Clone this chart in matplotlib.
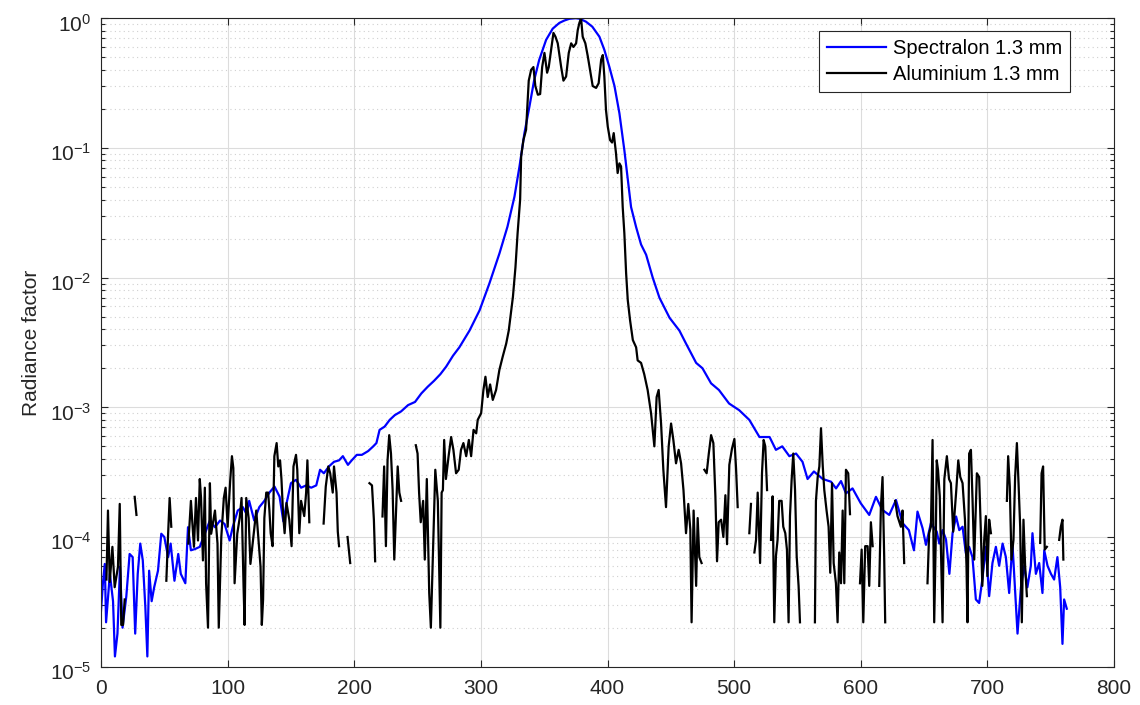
import numpy as np
import matplotlib
matplotlib.use("Agg")
import matplotlib.pyplot as plt
import matplotlib.transforms as mtransforms
from matplotlib.ticker import LogLocator, NullLocator, MultipleLocator

plt.rcParams['font.family'] = ['Liberation Sans', 'DejaVu Sans']
plt.rcParams['mathtext.default'] = 'regular'

nan = np.nan

# Spectralon 1.3 mm
spec_x = [0, 1.5, 3, 4, 7, 9.5, 11, 13, 15, 17,
          20, 22.6, 25, 27, 29, 31, 33, 35, 36.6, 38,
          40, 42, 45, 47.6, 50, 53, 55, 58, 61, 63,
          66.6, 68.7, 71, 74.5, 78, 82, 86, 90, 94, 97.6,
          101.6, 104, 108, 112, 115, 117, 121, 125, 129, 133,
          137, 141, 144, 146.6, 150, 154, 158, 162, 166, 170,
          173, 176, 180, 184, 188, 191, 195, 198, 202, 206,
          211, 215, 217.5, 220, 224, 228, 232, 237, 242.5, 248,
          253, 258, 263, 268, 272.6, 278, 283, 291, 299, 306.7,
          314.7, 321, 326.5, 330.5, 334.4, 338.4, 342, 346, 351.5, 356.7,
          362, 366, 370, 375, 378, 383, 388, 393.6, 397.5, 401.5,
          405.5, 409.4, 413.3, 416, 418.6, 422.6, 426.5, 430.5, 435.7, 441,
          449, 456.8, 462, 470, 475, 481.8, 488, 496, 504, 512,
          520, 528, 533, 538, 543.6, 548.9, 554, 558, 563, 570,
          576.5, 580.5, 584.4, 588.3, 593.5, 600, 606.7, 612, 617, 622.5,
          627.8, 633, 638, 642, 644.8, 648.8, 651.5, 655.4, 660, 662,
          664.6, 667.3, 670, 672.5, 675.3, 677.8, 680.4, 683, 685.6, 688.2,
          690.9, 693.5, 696, 698.8, 701.4, 704, 706.7, 709.3, 712, 714.6,
          717.2, 719.8, 721.7, 723.8, 726.5, 729.1, 731.6, 734.3, 735.6, 738.3,
          740.9, 743.5, 744.9, 747.5, 750.2, 752.7, 755.3, 757.5, 759.3, 760.6,
          762.7]
spec_y = [2.7e-5, 4.4e-5, 6.2e-5, 2.2e-5, 5.2e-5, 3.2e-5, 1.2e-5, 1.8e-5, 5.9e-5, 2.0e-5,
          3.5e-5, 7.4e-5, 7.0e-5, 1.8e-5, 5.2e-5, 8.9e-5, 6.6e-5, 2.9e-5, 1.2e-5, 5.5e-5,
          3.2e-5, 4.1e-5, 5.5e-5, 1.06e-4, 1.0e-4, 7.0e-5, 8.9e-5, 4.6e-5, 7.4e-5, 5.2e-5,
          4.4e-5, 1.19e-4, 7.9e-5, 8.1e-5, 8.4e-5, 1.06e-4, 1.34e-4, 1.19e-4, 1.34e-4, 1.26e-4,
          9.4e-5, 1.19e-4, 1.6e-4, 1.7e-4, 1.5e-4, 1.9e-4, 1.34e-4, 1.7e-4, 1.9e-4, 2.2e-4,
          2.45e-4, 2.05e-4, 1.32e-4, 1.83e-4, 2.6e-4, 2.76e-4, 2.4e-4, 2.5e-4, 2.4e-4, 2.5e-4,
          3.3e-4, 3.1e-4, 3.5e-4, 3.8e-4, 3.9e-4, 4.2e-4, 3.6e-4, 3.9e-4, 4.3e-4, 4.3e-4,
          4.6e-4, 5.0e-4, 5.3e-4, 6.7e-4, 7.1e-4, 8.0e-4, 8.7e-4, 9.3e-4, 1.04e-3, 1.1e-3,
          1.28e-3, 1.44e-3, 1.6e-3, 1.8e-3, 2.06e-3, 2.5e-3, 2.9e-3, 3.9e-3, 5.6e-3, 9.0e-3,
          1.54e-2, 2.47e-2, 4.2e-2, 7.2e-2, 0.13, 0.21, 0.33, 0.475, 0.68, 0.83,
          0.92, 0.96, 0.99, 1.0, 0.99, 0.94, 0.86, 0.72, 0.57, 0.42,
          0.30, 0.185, 0.096, 0.057, 0.035, 0.0245, 0.018, 0.015, 0.010, 7.0e-3,
          4.9e-3, 3.9e-3, 3.1e-3, 2.2e-3, 2.0e-3, 1.53e-3, 1.36e-3, 1.07e-3, 9.5e-4, 8.0e-4,
          5.9e-4, 5.9e-4, 4.7e-4, 5.0e-4, 4.2e-4, 4.4e-4, 3.8e-4, 2.8e-4, 3.2e-4, 2.8e-4,
          2.67e-4, 2.37e-4, 2.7e-4, 2.17e-4, 2.37e-4, 1.82e-4, 1.48e-4, 2.04e-4, 1.62e-4, 1.48e-4,
          1.93e-4, 1.28e-4, 1.13e-4, 7.9e-5, 1.57e-4, 1.17e-4, 8.7e-5, 1.28e-4, 1.1e-4, 8.9e-5,
          1.13e-4, 9.6e-5, 5.2e-5, 1.07e-4, 1.44e-4, 1.13e-4, 1.2e-4, 7.5e-5, 8.4e-5, 7.0e-5,
          3.3e-5, 3.1e-5, 4.7e-5, 8.4e-5, 3.5e-5, 6.3e-5, 8.4e-5, 6.0e-5, 8.9e-5, 7.0e-5,
          3.7e-5, 8.9e-5, 4.1e-5, 1.8e-5, 4.1e-5, 6.0e-5, 4.1e-5, 6.0e-5, 1.07e-4, 5.2e-5,
          6.3e-5, 3.7e-5, 7.9e-5, 6.0e-5, 5.2e-5, 4.7e-5, 7.0e-5, 4.1e-5, 1.5e-5, 3.3e-5,
          2.8e-5]

# Aluminium 1.3 mm, nan where the curve is broken
alu_x = [4.3, 5.5, 6.9, 9, 10.8, 13.4, 14.8, 16, 17.4, 18.7,
         22, 26.6, 28, 40, 51.6, 52.9, 54.2, 55.5, 62, 69,
         71, 73.4, 75, 76.6, 78, 79, 80.5, 82, 83, 84.5,
         86, 87, 90, 92, 93, 95, 97, 98.4, 100, 102,
         103.4, 104.5, 105.5, 107.6, 109.5, 111, 112.6, 113.4, 114.7, 116.6,
         118, 120, 122.6, 126, 127, 128, 129, 130.5, 132, 133,
         134, 135.5, 136.9, 138.7, 140, 141.4, 142.5, 143.8, 145, 146.5,
         148.7, 150.5, 152, 154, 155, 156.6, 158, 159, 160.5, 162,
         163, 164.5, 169, 175.8, 177.5, 179.5, 181, 183, 184, 186,
         187, 188, 191, 194.7, 196.8, 204, 212, 214, 215.5, 216.5,
         219, 222.3, 223.6, 225, 226.3, 227.6, 229, 230.3, 231.6, 233,
         234.3, 235.6, 237, 243, 248.6, 250, 251.2, 252.5, 254.4, 255.7,
         257.3, 259.2, 260.5, 262.3, 264, 266, 268, 269, 270, 271,
         272.4, 274.5, 276.5, 278.3, 280.4, 282.5, 284.3, 286.2, 288.4, 290.5,
         292.3, 294.2, 296.3, 297.5, 300.2, 302, 303.6, 305.4, 307.3, 309.4,
         312, 314.6, 317.2, 320, 322, 324, 325.3, 327.3, 329, 331,
         331.8, 333.6, 335.7, 337, 337.8, 339.7, 341.5, 343, 345, 346.8,
         348.4, 350.2, 352.3, 353.6, 355.5, 357.3, 358.9, 360.7, 363.4, 365.2,
         367.3, 369.4, 371.3, 373.1, 375.2, 376.5, 377.8, 379.1, 380.4, 382.5,
         384.4, 386.2, 388.3, 391, 393, 395, 396.3, 397.5, 398.8, 400.2,
         402, 403.6, 404.9, 406.7, 408, 409.4, 410.7, 412, 413.3, 414.7,
         416, 417.8, 420, 422.6, 423.8, 426.5, 429, 431.7, 434.4, 437,
         438.8, 440.4, 442.3, 444.1, 446.2, 448.3, 450.2, 452, 454.1, 456.2,
         458.1, 460, 462, 463.8, 465.4, 466.4, 468, 470, 471.2, 472.5,
         474.3, 475.5, 476.5, 478.3, 480, 481.8, 483.6, 485.2, 486.5, 487.8,
         489.7, 491.5, 493.1, 494.4, 496.2, 498.3, 500.2, 501.5, 502.8, 507,
         512, 513.3, 514.5, 516, 517.3, 518.6, 520.5, 522, 523.3, 524.6,
         526, 528, 529.1, 530.4, 531.7, 533, 534.3, 535.6, 537.5, 538.8,
         540.4, 541.7, 543, 544.1, 545.4, 546.7, 548.1, 549.4, 550.9, 552,
         558, 563.8, 564.6, 566, 567.3, 568.6, 570, 571.2, 573, 574.6,
         575.9, 577.3, 578.6, 580.4, 581.7, 583, 584.4, 585.7, 587, 588.3,
         590.1, 591.5, 595, 599.4, 600.7, 602, 603.5, 605.4, 606.7, 608,
         609.4, 612, 614.6, 615.9, 617.2, 618.5, 619.3, 623, 627.2, 629,
         631.7, 633, 634.3, 640, 652.7, 654, 655.4, 656.7, 658, 659.3,
         660, 661, 662.4, 664.6, 666, 668, 669.7, 671.2, 673, 675.3,
         677, 678.6, 680.4, 682.3, 683.5, 684.3, 685.6, 687, 688.3, 689.6,
         691.7, 693.5, 694.9, 696, 697.5, 698.8, 700, 701.4, 702.8, 708,
         715.4, 716.4, 717.7, 719, 720.6, 721.9, 723.3, 724.6, 725.9, 727.2,
         728.5, 729.8, 731.2, 736, 741.7, 742.8, 744, 745.3, 747, 752,
         756.7, 758, 759.3, 760]
alu_y = [4.7e-5, 1.6e-4, 4.5e-5, 8.4e-5, 4.1e-5, 5.9e-5, 1.8e-4, 2.1e-5, 2.1e-5, 3.3e-5,
         nan, 2.04e-4, 1.48e-4, nan, 4.6e-5, 1.0e-4, 2.0e-4, 1.2e-4, nan, 8.9e-5,
         1.9e-4, 8.4e-5, 2.0e-4, 9.4e-5, 2.8e-4, 2.0e-4, 6.6e-5, 2.4e-4, 4.4e-5, 2.0e-5,
         2.6e-4, 1.06e-4, 1.6e-4, 8.9e-5, 2.0e-5, 1.0e-4, 2.0e-4, 2.4e-4, 1.2e-4, 2.7e-4,
         4.2e-4, 3.4e-4, 4.4e-5, 1.06e-4, 1.4e-4, 2.0e-4, 4.1e-5, 2.1e-5, 2.0e-4, 1.4e-4,
         6.2e-5, 9.4e-5, 1.6e-4, 5.9e-5, 2.1e-5, 3.3e-5, 1.4e-4, 2.2e-4, 2.2e-4, 1.6e-4,
         1.07e-4, 8.5e-5, 4.2e-4, 5.3e-4, 3.5e-4, 3.9e-4, 2.8e-4, 1.5e-4, 1.07e-4, 1.83e-4,
         1.36e-4, 8.5e-5, 3.5e-4, 4.3e-4, 3.3e-4, 1.07e-4, 1.9e-4, 1.7e-4, 1.45e-4, 2.2e-4,
         3.9e-4, 1.3e-4, nan, 1.27e-4, 2.45e-4, 3.5e-4, 3.1e-4, 2.2e-4, 3.5e-4, 2.2e-4,
         1.1e-4, 8.5e-5, nan, 1.0e-4, 6.3e-5, nan, 2.6e-4, 2.5e-4, 1.36e-4, 6.5e-5,
         nan, 1.44e-4, 3.5e-4, 8.5e-5, 3.9e-4, 6.1e-4, 4.4e-4, 2.3e-4, 6.7e-5, 1.6e-4,
         3.5e-4, 2.2e-4, 1.9e-4, nan, 5.1e-4, 4.4e-4, 2.2e-4, 1.3e-4, 1.9e-4, 6.7e-5,
         2.8e-4, 3.7e-5, 2.0e-5, 8.5e-5, 3.3e-4, 1.9e-4, 2.0e-5, 2.2e-4, 2.3e-4, 5.6e-4,
         2.8e-4, 4.2e-4, 5.9e-4, 4.7e-4, 3.1e-4, 3.3e-4, 4.7e-4, 5.3e-4, 4.2e-4, 5.6e-4,
         4.2e-4, 6.7e-4, 6.3e-4, 8.0e-4, 9.0e-4, 1.36e-3, 1.72e-3, 1.2e-3, 1.5e-3, 1.14e-3,
         1.36e-3, 1.94e-3, 2.45e-3, 3.1e-3, 3.9e-3, 5.6e-3, 7.1e-3, 1.2e-2, 2.2e-2, 4.0e-2,
         8.6e-2, 0.115, 0.138, 0.235, 0.33, 0.40, 0.42, 0.30, 0.257, 0.26,
         0.42, 0.54, 0.38, 0.42, 0.57, 0.77, 0.72, 0.64, 0.42, 0.33,
         0.355, 0.54, 0.64, 0.60, 0.64, 0.81, 0.92, 1.0, 0.72, 0.64,
         0.51, 0.40, 0.30, 0.29, 0.315, 0.48, 0.52, 0.355, 0.196, 0.146,
         0.115, 0.11, 0.13, 0.091, 0.064, 0.076, 0.072, 0.035, 0.022, 0.0108,
         6.7e-3, 4.7e-3, 3.3e-3, 2.9e-3, 2.3e-3, 2.2e-3, 1.8e-3, 1.36e-3, 9.0e-4, 5.0e-4,
         1.2e-3, 1.36e-3, 7.5e-4, 3.3e-4, 1.7e-4, 5.0e-4, 7.5e-4, 5.6e-4, 3.7e-4, 4.7e-4,
         3.7e-4, 2.3e-4, 1.07e-4, 1.8e-4, 1.14e-4, 2.2e-5, 1.6e-4, 4.2e-5, 1.4e-4, 7.0e-5,
         6.3e-5, nan, 3.3e-4, 3.1e-4, 4.4e-4, 6.1e-4, 5.3e-4, 2.06e-4, 6.5e-5, 1.3e-4,
         1.36e-4, 1.0e-4, 2.1e-4, 8.8e-5, 3.6e-4, 4.8e-4, 5.7e-4, 3.4e-4, 1.7e-4, nan,
         1.07e-4, 1.8e-4, nan, 7.6e-5, 9.5e-5, 2.2e-4, 6.3e-5, 3.1e-4, 5.6e-4, 5.0e-4,
         2.3e-4, nan, 9.5e-5, 2.06e-4, 2.2e-5, 7.1e-5, 9.5e-5, 1.9e-4, 1.9e-4, 1.2e-4,
         1.07e-4, 8e-5, 2.2e-5, 1.45e-4, 2.75e-4, 4.4e-4, 2.3e-4, 7.1e-5, 4.2e-5, 2.2e-5,
         nan, 2.2e-5, 1.9e-4, 2.9e-4, 3.5e-4, 6.9e-4, 3.5e-4, 2.3e-4, 1.6e-4, 1.2e-4,
         5.3e-5, 2.6e-4, 6.3e-5, 4.4e-5, 2.2e-5, 7.6e-5, 4.4e-5, 1.6e-4, 4.4e-5, 3.3e-4,
         3.1e-4, 1.5e-4, nan, 4.4e-5, 8e-5, 2.2e-5, 8.5e-5, 8.5e-5, 4.2e-5, 1.3e-4,
         8.5e-5, nan, 4.2e-5, 1.7e-4, 2.9e-4, 7.1e-5, 2.2e-5, nan, 1.9e-4, 1.45e-4,
         1.2e-4, 1.6e-4, 6.3e-5, nan, 4.4e-5, 1.07e-4, 1.2e-4, 5.6e-4, 2.2e-5, 1.07e-4,
         3.9e-4, 3.3e-4, 2.06e-4, 2.2e-5, 2.8e-4, 4.2e-4, 2.8e-4, 2.6e-4, 1.1e-4, 2.2e-4,
         3.9e-4, 2.9e-4, 2.6e-4, 1.36e-4, 6.0e-5, 2.2e-5, 4.4e-4, 4.7e-4, 1.9e-4, 6.7e-5,
         3.1e-4, 2.9e-4, 1.07e-4, 4.2e-5, 9.5e-5, 1.45e-4, 5.0e-5, 1.36e-4, 1.07e-4, nan,
         1.9e-4, 4.2e-4, 2.45e-4, 6.7e-5, 9.5e-5, 2.9e-4, 5.3e-4, 2.6e-4, 1.2e-4, 2.2e-5,
         1.36e-4, 6.0e-5, 3.5e-5, nan, 9e-5, 3.1e-4, 3.5e-4, 8e-5, 8.4e-5, nan,
         9.5e-5, 1.2e-4, 1.36e-4, 6.7e-5]

labels = ['Spectralon 1.3 mm', 'Aluminium 1.3 mm']

fig = plt.figure(figsize=(11.4, 7.05), dpi=100)
ax = fig.add_axes([0.0886, 0.0543, 0.8886, 0.9199])

ax.plot(spec_x, spec_y, color=(0, 0, 1), lw=1.6, label=labels[0])
ax.plot(alu_x, alu_y, color='black', lw=1.6, label=labels[1])

ax.set_yscale('log')
ax.set_xlim(0, 800)
ax.set_ylim(1e-5, 1)
ax.xaxis.set_major_locator(MultipleLocator(100))
ax.xaxis.set_minor_locator(NullLocator())
ax.yaxis.set_major_locator(LogLocator(base=10, numticks=10))
ax.yaxis.set_minor_locator(LogLocator(base=10, subs=np.arange(2, 10), numticks=20))

ax.grid(which='major', color='#dcdcdc', lw=0.8)
ax.grid(which='minor', axis='y', color='#d0d0d0', ls=(0, (1, 3)), lw=0.8)
ax.set_axisbelow(True)

ax.tick_params(which='both', direction='in', top=True, right=True, colors='#262626',
               labelsize=15, width=0.8)
ax.tick_params(which='major', length=5)
ax.tick_params(which='minor', length=3)
ax.tick_params(axis='x', pad=9)
ax.tick_params(axis='y', pad=7)
for sp in ax.spines.values():
    sp.set_color('#262626')
    sp.set_linewidth(0.8)

# y tick labels sit a little below their ticks in the original
shift = mtransforms.ScaledTranslation(0, -3 / 72, fig.dpi_scale_trans)
for lab in ax.get_yticklabels():
    lab.set_transform(lab.get_transform() + shift)

ax.set_ylabel('Radiance factor', fontsize=15, color='#262626', labelpad=6)

leg = ax.legend(loc='upper right', bbox_to_anchor=(0.9566, 0.98), borderaxespad=0,
                fontsize=14.5, fancybox=False, edgecolor='#262626', framealpha=1,
                handlelength=2.9, borderpad=0.4, labelspacing=0.35, handletextpad=0.35)
leg.get_frame().set_linewidth(0.8)

fig.savefig('out.png', dpi=100)
